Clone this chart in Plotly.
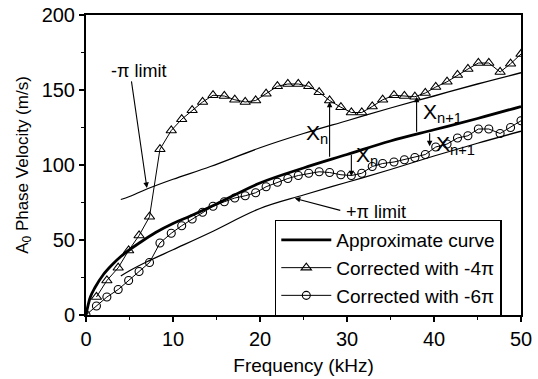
import plotly.graph_objects as go

# ---------------- data ----------------
freq_tri = [1.2, 2.4, 3.7, 4.9, 6.1, 7.3, 8.5, 9.8, 11.0, 12.2, 13.4, 14.6, 15.9, 17.1,
            18.3, 19.5, 20.7, 22.0, 23.2, 24.4, 25.6, 26.8, 28.0, 29.3, 30.5, 31.7, 32.9,
            34.1, 35.4, 36.6, 37.8, 39.0, 40.2, 41.5, 42.7, 43.9, 45.1, 46.3, 47.6, 48.8, 50.0]
vel_tri = [12, 23, 31.5, 43, 53, 65.5, 110.5, 123, 130.5, 136.5, 142, 146.5, 146, 143.5,
           142, 143, 147.5, 152.5, 154, 154, 152.5, 148.5, 143, 138.5, 135, 135, 139,
           143.5, 146.5, 146, 145.5, 148, 152, 155.5, 160, 164, 168, 168, 162, 167.5, 174]

freq_cir = [0.0, 1.2, 2.4, 3.7, 4.9, 6.1, 7.3, 8.5, 9.8, 11.0, 12.2, 13.4, 14.6, 15.9, 17.1,
            18.3, 19.5, 20.7, 22.0, 23.2, 24.4, 25.6, 26.8, 28.0, 29.3, 30.5, 31.7, 32.9,
            34.1, 35.4, 36.6, 37.8, 39.0, 40.2, 41.5, 42.7, 43.9, 45.1, 46.3, 47.6, 48.8, 50.0]
vel_cir = [0, 6, 12, 17, 23, 29, 35, 48, 54.5, 59.5, 64, 68.5, 72.5, 75.5, 78,
           79.5, 81.5, 85.5, 88.5, 91, 93, 94.5, 95.5, 95, 93.5, 93, 94.5, 99,
           101, 102, 103.5, 105, 107, 112, 114, 118, 119.5, 124, 124, 121, 125, 129.5]

freq_approx = [0, 0.5, 1, 2, 3, 4, 5, 6, 8, 10, 12, 15, 20, 25, 30, 35, 40, 45, 50]
vel_approx = [0, 12, 18, 27, 33.5, 39, 43.5, 47.5, 55, 61, 66, 74, 88, 98, 107, 116, 123.5, 131, 139]

freq_limit = [4, 5, 7, 10, 14.3, 20, 25, 30, 35, 40, 45, 50]
vel_minus_pi = [77, 79, 84, 90.5, 99, 111.5, 121, 129.5, 138, 146, 154, 161.5]
vel_plus_pi = [26, 29.5, 35.5, 43.5, 55, 71, 80, 88.5, 97, 106, 114.5, 122.5]

x_ticks = [0, 10, 20, 30, 40, 50]
y_ticks = [0, 50, 100, 150, 200]

FONT = "Liberation Sans, Arial, Helvetica, sans-serif"

fig = go.Figure()

# limit lines (no legend)
fig.add_trace(go.Scatter(x=freq_limit, y=vel_minus_pi, mode="lines",
                         line=dict(color="black", width=1.3), showlegend=False,
                         line_shape="spline"))
fig.add_trace(go.Scatter(x=freq_limit, y=vel_plus_pi, mode="lines",
                         line=dict(color="black", width=1.3), showlegend=False,
                         line_shape="spline"))

fig.add_trace(go.Scatter(x=freq_approx, y=vel_approx, mode="lines", name="Approximate curve",
                         line=dict(color="black", width=2.8), line_shape="spline"))
fig.add_trace(go.Scatter(x=freq_tri, y=vel_tri, mode="lines+markers",
                         name="Corrected with -4\u03c0",
                         line=dict(color="black", width=1),
                         marker=dict(symbol="triangle-up-open", size=9, color="black",
                                     line=dict(width=1.1))))
fig.add_trace(go.Scatter(x=freq_cir, y=vel_cir, mode="lines+markers",
                         name="Corrected with -6\u03c0",
                         line=dict(color="black", width=1),
                         marker=dict(symbol="circle-open", size=8, color="black",
                                     line=dict(width=1.1))))

ann = []
# vertical arrows between approximate curve and corrected points
arrows = [(28.0, 104.5, 142.2), (30.5, 107.8, 92.5), (38.0, 121.1, 145.5), (39.5, 122.2, 112.5)]
for xa, y0, y1 in arrows:
    ann.append(dict(x=xa, y=y1, ax=xa, ay=y0, xref="x", yref="y", axref="x", ayref="y",
                    text="", showarrow=True, arrowhead=2, arrowsize=1, arrowwidth=1.1,
                    arrowcolor="black", standoff=0, startstandoff=0))
# limit label arrows
ann.append(dict(x=7.0, y=84.7, ax=5.2, ay=156.7, xref="x", yref="y", axref="x", ayref="y",
                text="", showarrow=True, arrowhead=2, arrowsize=1, arrowwidth=1.1,
                arrowcolor="black"))
ann.append(dict(x=24.0, y=77.8, ax=29.4, ay=69.5, xref="x", yref="y", axref="x", ayref="y",
                text="", showarrow=True, arrowhead=2, arrowsize=1, arrowwidth=1.1,
                arrowcolor="black"))
# texts
ann.append(dict(x=2.7, y=162.7, xref="x", yref="y", text="-\u03c0 limit", showarrow=False,
                xanchor="left", yanchor="middle", font=dict(size=18, family=FONT, color="black")))
ann.append(dict(x=29.7, y=69, xref="x", yref="y", text="+\u03c0 limit", showarrow=False,
                xanchor="left", yanchor="middle", font=dict(size=18, family=FONT, color="black")))
xlabels = [(25.1, 120.5, "X<sub>n</sub>"), (30.8, 106, "X<sub>n</sub>"),
           (38.5, 135, "X<sub>n+1</sub>"), (40.0, 113.5, "X<sub>n+1</sub>")]
for xl, yl, t in xlabels:
    ann.append(dict(x=xl, y=yl, xref="x", yref="y", text=t, showarrow=False,
                    xanchor="left", yanchor="middle",
                    font=dict(size=21, family=FONT, color="black")))

fig.update_layout(
    width=538, height=379,
    margin=dict(l=86, r=17, t=15, b=64, autoexpand=False),
    paper_bgcolor="white", plot_bgcolor="white",
    font=dict(family=FONT, size=18, color="black"),
    showlegend=True,
    legend=dict(x=0.434, y=0.318, xanchor="left", yanchor="top",
                bordercolor="black", borderwidth=1.5, bgcolor="white",
                font=dict(size=19, family=FONT), itemwidth=50, tracegroupgap=0),
    annotations=ann,
)
fig.update_xaxes(range=[0, 50], tickvals=x_ticks, ticktext=[str(v) for v in x_ticks],
                 automargin=False,
                 showgrid=False, zeroline=False, showline=True, linecolor="black", linewidth=2,
                 mirror=True, ticks="outside", ticklen=5, tickwidth=1.5, tickcolor="black",
                 minor=dict(dtick=5, ticks="outside", ticklen=3, tickcolor="black", tickwidth=1),
                 tickfont=dict(size=20, family=FONT),
                 title=dict(text="Frequency (kHz)", font=dict(size=19, family=FONT), standoff=10))
fig.update_yaxes(range=[0, 200], tickvals=y_ticks, ticktext=[str(v) for v in y_ticks],
                 automargin=False,
                 showgrid=False, zeroline=False, showline=True, linecolor="black", linewidth=2,
                 mirror=True, ticks="outside", ticklen=5, tickwidth=1.5, tickcolor="black",
                 minor=dict(dtick=25, ticks="outside", ticklen=3, tickcolor="black", tickwidth=1),
                 tickfont=dict(size=20, family=FONT),
                 title=dict(text="A<sub>0</sub> Phase Velocity (m/s)",
                            font=dict(size=17, family=FONT), standoff=9))

fig.write_html("out.html", post_script="document.body.style.margin='0';",
               config={"displayModeBar": False})
